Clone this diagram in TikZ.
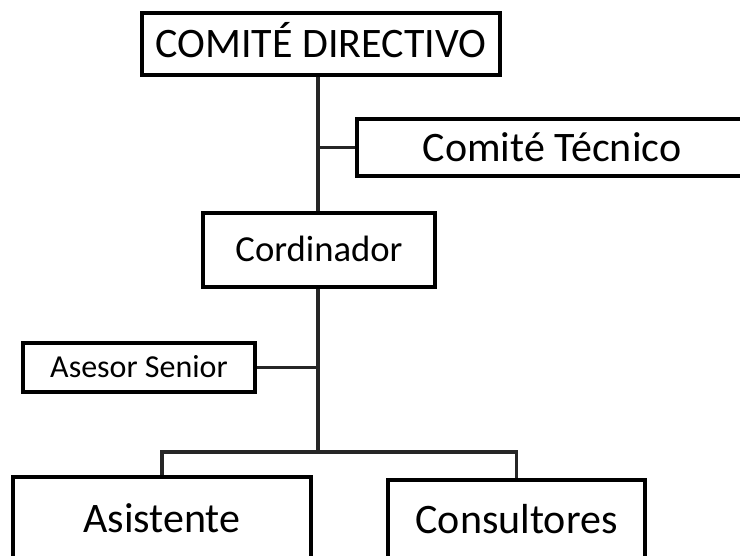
\documentclass[tikz,border=0pt]{standalone}
\usepackage{fontspec}
\setmainfont{Carlito}
\begin{document}
\begin{tikzpicture}[x=0.75pt,y=-0.75pt,
  box/.style={draw=black,line width=3pt,rectangle,inner sep=0pt,align=center,text depth=0pt},
  big/.style={font=\fontsize{31.5}{36}\selectfont,text height=20.3pt},
  mid/.style={font=\fontsize{27.5}{32}\selectfont,text height=17.7pt},
  small/.style={font=\fontsize{24}{28}\selectfont,text height=15.5pt},
  conn/.style={draw=black!85,line width=2.3pt,line join=miter}]
\useasboundingbox (0,0) rectangle (740,556);
\clip (0,0) rectangle (740,556);
\fill[white] (0,0) rectangle (740,556);
% boxes
\node[box,big,minimum width=358*0.75pt,minimum height=62*0.75pt] (dir) at (321,44) {COMITÉ DIRECTIVO};
\node[box,big,minimum width=390*0.75pt,minimum height=57*0.75pt] (tec) at (552,147.5) {Comité Técnico};
\node[box,mid,minimum width=232*0.75pt,minimum height=74*0.75pt] (cor) at (319,250) {Cordinador};
\node[box,small,minimum width=232*0.75pt,minimum height=49*0.75pt] (ase) at (139,367.5) {Asesor Senior};
\node[box,big,minimum width=298*0.75pt,minimum height=84*0.75pt] (asi) at (162,519) {Asistente};
\node[box,big,minimum width=257*0.75pt,minimum height=80*0.75pt] (con) at (516.5,520) {Consultores};
% junctions
\coordinate (j1) at (318,147.5);
\coordinate (j2) at (318,367.5);
\coordinate (j3) at (318,452);
% connectors
\draw[conn] (dir.south -| j1) -- (cor.north -| j1);
\draw[conn] (j1) -- (tec.west);
\draw[conn] (cor.south -| j1) -- (j3);
\draw[conn] (j2) -- (ase.east);
\draw[conn] (asi.north) |- (j3) -| (con.north);
\end{tikzpicture}
\end{document}
